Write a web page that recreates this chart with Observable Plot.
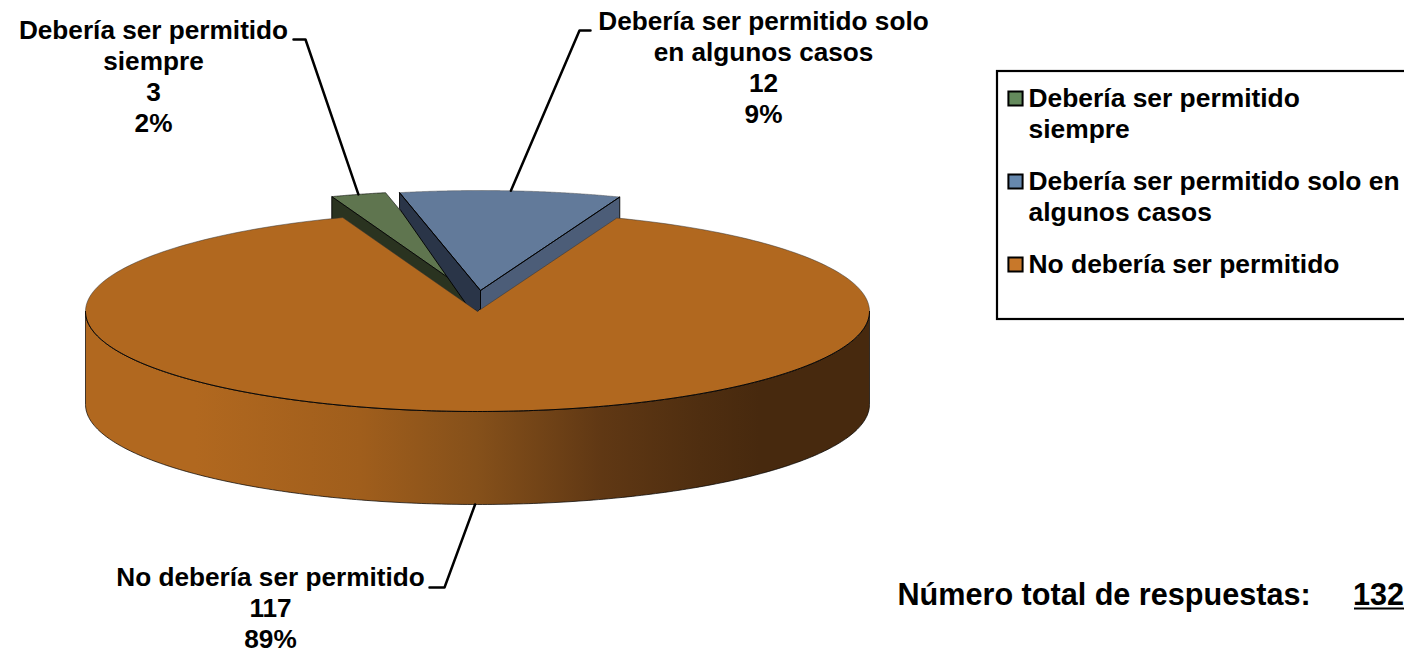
<!DOCTYPE html>
<html><head><meta charset="utf-8">
<style>html,body{margin:0;padding:0;background:#fff;overflow:hidden}</style>
<script src="https://cdn.jsdelivr.net/npm/d3@7"></script>
<script src="https://cdn.jsdelivr.net/npm/@observablehq/plot@0.6"></script>
</head><body><div id="chart"></div>
<script>
// ---- data ----
const categories = ["Debería ser permitido siempre", "Debería ser permitido solo en algunos casos", "No debería ser permitido"];
const values = [3, 12, 117];
const percents = [2, 9, 89];
const labelNames = ["Debería ser permitido\nsiempre", "Debería ser permitido solo\nen algunos casos", "No debería ser permitido"];
const legendNames = ["Debería ser permitido\nsiempre", "Debería ser permitido solo en\nalgunos casos", "No debería ser permitido"];
const totalLabel = "Número total de respuestas:";
const totalValue = "132";

// ---- style and layout ----
const topColors = ["#5f754f", "#627a9a", "#b1681f"];
const leftWall = ["#2a3320", "#2a3548"];
const rightWall = "#4c5d78";
const swatchColors = ["#648a5c", "#6688ae", "#c8782a"];
const wallStops = [[0, "#b1681f"], [0.14, "#b1681f"], [0.35, "#a05e1c"], [0.5, "#85501a"], [0.657, "#603814"], [0.784, "#4f2e10"], [0.86, "#47290e"], [1, "#47290e"]];
const rx = 392, ry = 100, depth = 93, startAngle = -20.1;
const centers = [[466, 290], [480, 290], [477, 311]];
const labelCenters = [[153, 75], [763, 66], [270, 607]];
const elbows = [[[293, 39], [305, 39]], [[590, 30], [579, 30]], [[429, 587], [444, 587]]];
const legendX = 1028, legendY = [98, 181, 264];
const fontSize = 26.2;

// ---- geometry derived from the values ----
const total = d3.sum(values);
let acc = startAngle;
const slices = values.map((v, i) => {
  const a0 = acc, a1 = acc + v / total * 360;
  acc = a1;
  return {i, a0, a1, mid: (a0 + a1) / 2, c: centers[i]};
});
const pt = (c, deg, dy = 0) => {
  const r = deg * Math.PI / 180;
  return {x: c[0] + rx * Math.sin(r), y: c[1] - ry * Math.cos(r) + dy};
};
const arc = (c, a0, a1, dy = 0) => d3.range(0, 241).map(k => pt(c, a0 + (a1 - a0) * k / 240, dy));
const apex = (c, dy = 0) => ({x: c[0], y: c[1] + dy});
const sector = s => [apex(s.c), ...arc(s.c, s.a0, s.a1), apex(s.c)];
const poly = (pts, fill, extra = {}) => Plot.line(pts, {x: "x", y: "y", fill, stroke: "#000", strokeWidth: 0.9, strokeLinejoin: "round", ...extra});

const [green, blue, main] = slices;
const outer = [...arc(main.c, 90, 270), ...arc(main.c, 270, 90, depth)];
const greenWall = [apex(green.c), pt(green.c, green.a0), pt(green.c, green.a0, 30), apex(green.c, 30), apex(green.c)];
const blueLeftWall = [apex(blue.c), pt(blue.c, blue.a0), pt(blue.c, blue.a0, 16), apex(green.c, 14), apex(main.c), apex(blue.c, 18), apex(blue.c)];
const blueRightWall = [apex(blue.c), pt(blue.c, blue.a1), pt(blue.c, blue.a1, 30), apex(blue.c, 30), apex(blue.c)];

const gradient = () => {
  const defs = d3.create("svg:defs");
  const g = defs.append("linearGradient").attr("id", "wallGrad").attr("x1", 0).attr("x2", 1).attr("y1", 0).attr("y2", 0);
  wallStops.forEach(([o, col]) => g.append("stop").attr("offset", o).attr("stop-color", col));
  return defs.node();
};

const leaders = slices.map(s => {
  const a = s.i === 2 ? pt(s.c, s.mid, depth) : pt(s.c, s.mid);
  return [a, {x: elbows[s.i][1][0], y: elbows[s.i][1][1]}, {x: elbows[s.i][0][0], y: elbows[s.i][0][1]}];
});
const labelData = values.map((v, i) => ({
  x: labelCenters[i][0], y: labelCenters[i][1],
  text: `${labelNames[i]}\n${v}\n${percents[i]}%`
}));
const legendData = categories.map((c, i) => ({x: legendX, y: legendY[i], name: legendNames[i], sx: legendX - 13, sy: legendY[i], color: swatchColors[i]}));

const font = {fontFamily: "Liberation Sans, Arial, sans-serif", fontWeight: "bold", fill: "#000"};

const chart = Plot.plot({
  width: 1404, height: 653, margin: 0,
  style: {background: "#fff"},
  x: {domain: [0, 1404], range: [0, 1404], axis: null},
  y: {domain: [0, 653], range: [0, 653], axis: null},
  marks: [
    gradient,
    // exploded slices, back to front
    poly(sector(green), topColors[0], {strokeWidth: 0.6}),
    poly(greenWall, leftWall[0]),
    poly(sector(blue), topColors[1], {strokeWidth: 0.5, stroke: "#555"}),
    poly(blueRightWall, rightWall),
    poly(blueLeftWall, leftWall[1]),
    poly([apex(blue.c), pt(blue.c, blue.a0)], "none"),
    poly([apex(blue.c), pt(blue.c, blue.a1)], "none"),
    // main slice
    poly([...outer, outer[0]], "url(#wallGrad)", {strokeWidth: 0.7}),
    poly(sector(main), topColors[2], {strokeWidth: 0.5, stroke: "#333"}),
    poly(arc(main.c, 90, 270), "none", {strokeWidth: 0.9}),
    // leaders
    ...leaders.map(l => Plot.line(l, {x: "x", y: "y", stroke: "#000", strokeWidth: 2.5})),
    // data labels
    Plot.text(labelData, {x: "x", y: "y", text: "text", textAnchor: "middle", fontSize, lineHeight: 1.18, ...font}),
    // legend
    Plot.rect([{x1: 997, x2: 1420, y1: 71, y2: 319}], {x1: "x1", x2: "x2", y1: "y1", y2: "y2", fill: "none", stroke: "#000", strokeWidth: 2.2}),
    Plot.dot(legendData, {x: "sx", y: "sy", symbol: "square", r: 8, fill: "color", stroke: "#000", strokeWidth: 2}),
    Plot.text(legendData, {x: "x", y: "y", text: "name", textAnchor: "start", lineAnchor: "top", dy: -14, fontSize: 26.4, lineHeight: 1.18, ...font}),
    // total
    Plot.text([totalLabel], {x: 897, y: 595, text: d => d, textAnchor: "start", fontSize: 30.6, ...font}),
    Plot.text([totalValue], {x: 1352.5, y: 595, text: d => d, textAnchor: "start", fontSize: 30.6, ...font}),
    Plot.ruleY([608], {x1: 1354, x2: 1404, stroke: "#000", strokeWidth: 2})
  ]
});
document.getElementById("chart").appendChild(chart);
</script></body></html>
